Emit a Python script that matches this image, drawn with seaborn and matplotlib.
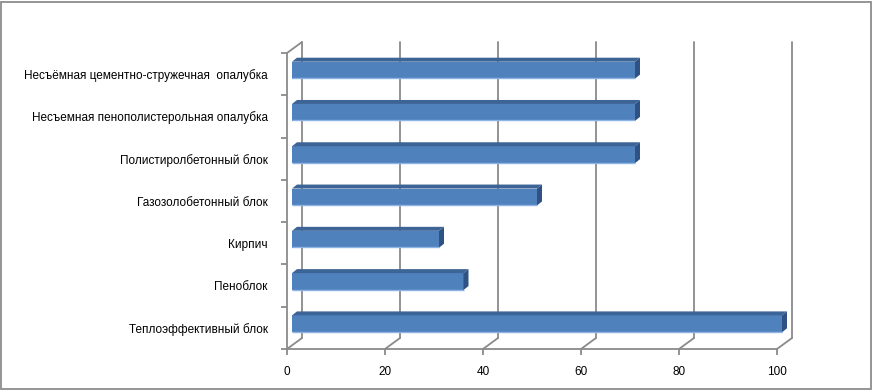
import matplotlib
matplotlib.use("Agg")
import matplotlib.pyplot as plt
import seaborn as sns
from matplotlib.patches import Polygon, Rectangle
from matplotlib.ticker import FixedLocator

# Data (top to bottom as shown in the chart)
categories = [
    "Несъёмная цементно-стружечная  опалубка",
    "Несъемная пенополистерольная опалубка",
    "Полистиролбетонный блок",
    "Газозолобетонный блок",
    "Кирпич",
    "Пеноблок",
    "Теплоэффективный блок",
]
values = [70, 70, 70, 50, 30, 35, 100]
x_ticks = [0, 20, 40, 60, 80, 100]

sns.set_style("white")
plt.rcParams["font.family"] = ["Liberation Sans", "DejaVu Sans"]

W, H = 873, 391
fig = plt.figure(figsize=(W / 100, H / 100), dpi=100)

# chart area border
fig.patches.append(Rectangle((1 / W, 2 / H), 870 / W, 387 / H, transform=fig.transFigure,
                             fill=False, edgecolor="#8c8c8c", linewidth=1.3))

# front plane of the plot area (pixels in the image)
x0_px, x1_px, top_px, bot_px = 287, 777, 53, 349
ax = fig.add_axes([x0_px / W, (H - bot_px) / H, (x1_px - x0_px) / W, (bot_px - top_px) / H])

sns.barplot(x=values, y=categories, orient="h", width=0.4, color="#4f81bd",
            saturation=1, linewidth=0, ax=ax)

ax.set_xlim(0, 100)
ax.set_ylim(6.5, -0.5)

# depth of the 3D box, in data units
px_x = (x1_px - x0_px) / 100.0
px_y = (bot_px - top_px) / 7.0
DX, DY = 15 / px_x, 11 / px_y
bdx, bdy = 5 / px_x, 4 / px_y  # bar offset and bar depth

grid_c = "#8a8a8a"
lw = 1.3

# back wall gridlines and floor diagonals
for t in x_ticks:
    ax.plot([t + DX, t + DX], [6.5 - DY, -0.5 - DY], color=grid_c, lw=lw, clip_on=False, zorder=0)
    ax.plot([t, t + DX], [6.5, 6.5 - DY], color=grid_c, lw=lw, clip_on=False, zorder=0)
# left wall top edge
ax.plot([0, DX], [-0.5, -0.5 - DY], color=grid_c, lw=lw, clip_on=False, zorder=0)

# move the bar faces into the box and add top / side faces
for p in ax.patches:
    p.set_x(p.get_x() + bdx)
    p.set_y(p.get_y() - bdy)
    p.set_zorder(3)
    p.set_clip_on(False)
    xa = p.get_x()
    xb = xa + p.get_width()
    yt = p.get_y()
    yb = yt + p.get_height()
    top = Polygon([(xa, yt), (xb, yt), (xb + bdx, yt - bdy), (xa + bdx, yt - bdy)],
                  closed=True, facecolor="#3d6496", edgecolor="none", zorder=3, clip_on=False)
    side = Polygon([(xb, yt), (xb, yb), (xb + bdx, yb - bdy), (xb + bdx, yt - bdy)],
                   closed=True, facecolor="#2f5285", edgecolor="none", zorder=3, clip_on=False)
    ax.add_patch(top)
    ax.add_patch(side)
    ax.plot([xa, xb], [yb - 0.012, yb - 0.012], color="#8db3e2", lw=1.0, zorder=4,
            solid_capstyle="butt", clip_on=False)

# front axes
for s in ["top", "right"]:
    ax.spines[s].set_visible(False)
for s in ["left", "bottom"]:
    ax.spines[s].set_color(grid_c)
    ax.spines[s].set_linewidth(lw)
    ax.spines[s].set_zorder(1)

ax.set_xticks(x_ticks)
ax.set_xticklabels([str(t) for t in x_ticks])
ax.yaxis.set_minor_locator(FixedLocator([i - 0.5 for i in range(8)]))
ax.tick_params(axis="x", which="major", bottom=True, length=4, width=lw, color=grid_c,
               direction="out", pad=8, labelsize=8.5, labelcolor="black")
ax.tick_params(axis="y", which="major", left=True, length=0, pad=14, labelsize=8.5,
               labelcolor="black")
ax.tick_params(axis="y", which="minor", left=True, length=4, width=lw, color=grid_c,
               direction="out")
ax.set_xlabel("")
ax.set_ylabel("")
ax.grid(False)

fig.savefig("out.png", dpi=100)
